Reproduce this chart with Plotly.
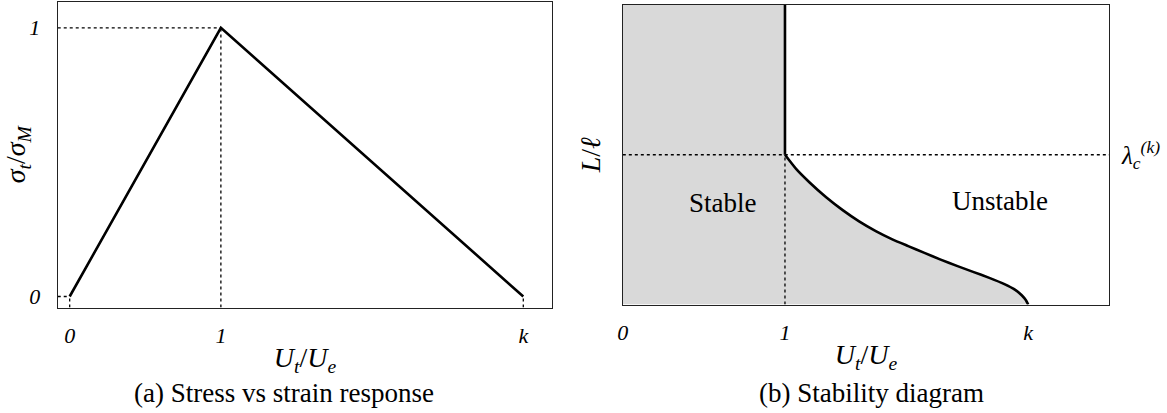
import plotly.graph_objects as go

# panel (a): bilinear stress-strain response
k_a = 3.0
strain_pts = [0.0, 1.0, k_a]
stress_pts = [0.0, 1.0, 0.0]

# panel (b): stability boundary
k_b = 2.5
lam_c = 1.0
curve_u = [1.0, 1.07, 1.152, 1.254, 1.356, 1.457, 1.56, 1.662, 1.76, 1.86,
           1.96, 2.06, 2.16, 2.26, 2.35, 2.42, 2.46, 2.485, 2.5]
curve_l = [1.0, 0.904, 0.815, 0.716, 0.63, 0.555, 0.49, 0.435, 0.39, 0.345,
           0.3, 0.258, 0.218, 0.178, 0.138, 0.098, 0.062, 0.03, 0.0]

xa_range = [-0.079, 3.191]
ya_range = [-0.041, 1.096]
xb_range = [0.0, 3.0]
yb_range = [0.0, 2.0]

W, H = 1167, 413
FONT = "Liberation Serif"
DOT = "3px,3px"

fig = go.Figure()

# ---- panel (a)
guides_a = [
    ([xa_range[0], 1.0], [1.0, 1.0]),
    ([1.0, 1.0], [ya_range[0], 1.0]),
    ([xa_range[0], 0.0], [0.0, 0.0]),
    ([0.0, 0.0], [ya_range[0], 0.0]),
    ([k_a, k_a], [ya_range[0], 0.0]),
]
for gx, gy in guides_a:
    fig.add_trace(go.Scatter(x=gx, y=gy, mode="lines", xaxis="x", yaxis="y",
                             line=dict(color="black", width=1.3, dash=DOT),
                             showlegend=False, hoverinfo="skip"))
fig.add_trace(go.Scatter(x=strain_pts, y=stress_pts, mode="lines",
                         xaxis="x", yaxis="y",
                         line=dict(color="black", width=2.6),
                         showlegend=False))

# ---- panel (b)
fill_x = [0.0, 0.0, 1.0] + curve_u + [0.0]
fill_y = [0.0, yb_range[1], yb_range[1]] + curve_l + [0.0]
fig.add_trace(go.Scatter(x=fill_x, y=fill_y, mode="lines", fill="toself",
                         fillcolor="#d9d9d9", line=dict(width=0),
                         xaxis="x2", yaxis="y2", showlegend=False,
                         hoverinfo="skip"))
fig.add_trace(go.Scatter(x=list(xb_range), y=[lam_c, lam_c], mode="lines",
                         xaxis="x2", yaxis="y2",
                         line=dict(color="black", width=1.3, dash=DOT),
                         showlegend=False, hoverinfo="skip"))
fig.add_trace(go.Scatter(x=[1.0, 1.0], y=[0.0, lam_c], mode="lines",
                         xaxis="x2", yaxis="y2",
                         line=dict(color="black", width=1.3, dash=DOT),
                         showlegend=False, hoverinfo="skip"))
fig.add_trace(go.Scatter(x=[1.0, 1.0], y=[lam_c, yb_range[1]], mode="lines",
                         xaxis="x2", yaxis="y2",
                         line=dict(color="black", width=2.6),
                         showlegend=False))
fig.add_trace(go.Scatter(x=curve_u, y=curve_l, mode="lines",
                         xaxis="x2", yaxis="y2",
                         line=dict(color="black", width=2.6, shape="spline",
                                   smoothing=0.5),
                         showlegend=False))

ax_common = dict(showline=True, mirror=True, linecolor="#222", linewidth=1.2,
                 showgrid=False, zeroline=False, ticks="",
                 tickfont=dict(family=FONT, size=22, color="black"))
title_font = dict(family=FONT, size=28, color="black")
ut_ue = "<i>U<sub>t</sub></i>/<i>U<sub>e</sub></i>"

fig.update_layout(
    width=W, height=H,
    margin=dict(l=0, r=0, t=0, b=0),
    paper_bgcolor="white", plot_bgcolor="white",
    xaxis=dict(ax_common, domain=[52 / W, 549 / W], range=xa_range,
               tickvals=[0, 1, k_a], ticktext=["<i>0</i>", "<i>1</i>", "<i>k</i>"],
               ticklabelstandoff=8,
               title=dict(text=ut_ue, font=title_font, standoff=0)),
    yaxis=dict(ax_common, domain=[1 - 309 / H, 1 - 2 / H], range=ya_range,
               anchor="x", tickvals=[0, 1], ticktext=["<i>0</i>", "<i>1</i>"],
               ticklabelstandoff=12,
               title=dict(text="<i>σ<sub>t</sub></i>/<i>σ<sub>M</sub></i>",
                          font=title_font, standoff=2)),
    xaxis2=dict(ax_common, domain=[620 / W, 1109 / W], range=xb_range,
                anchor="y2", tickvals=[0, 1, k_b],
                ticktext=["<i>0</i>", "<i>1</i>", "<i>k</i>"],
                ticklabelstandoff=8,
                title=dict(text=ut_ue, font=title_font, standoff=0)),
    yaxis2=dict(ax_common, domain=[1 - 306 / H, 1 - 5 / H], range=yb_range,
                anchor="x2", showticklabels=False,
                title=dict(text="<i>L</i>/<i>ℓ</i>", font=title_font,
                           standoff=12)),
)

text_font = dict(family=FONT, size=27, color="black")
fig.add_annotation(x=0.615, y=0.68, xref="x2", yref="y2", text="Stable",
                   showarrow=False, font=text_font)
fig.add_annotation(x=2.327, y=0.69, xref="x2", yref="y2", text="Unstable",
                   showarrow=False, font=text_font)
fig.add_annotation(x=1.0, y=lam_c, xref="x2 domain", yref="y2",
                   xanchor="left", xshift=10, text="<i>λ<sub>c</sub><sup>(k)</sup></i>",
                   showarrow=False, font=dict(family=FONT, size=25, color="black"))
fig.add_annotation(x=279 / W, y=1 - 395 / H, xref="paper", yref="paper",
                   xanchor="center", yanchor="middle",
                   text="(a) Stress vs strain response",
                   showarrow=False, font=text_font)
fig.add_annotation(x=870 / W, y=1 - 395 / H, xref="paper", yref="paper",
                   xanchor="center", yanchor="middle",
                   text="(b) Stability diagram",
                   showarrow=False, font=text_font)

# drop the default page margin so the figure sits at the window corner
fig.write_html("out.html", config={"displayModeBar": False},
               post_script="document.body.style.margin='0';")
